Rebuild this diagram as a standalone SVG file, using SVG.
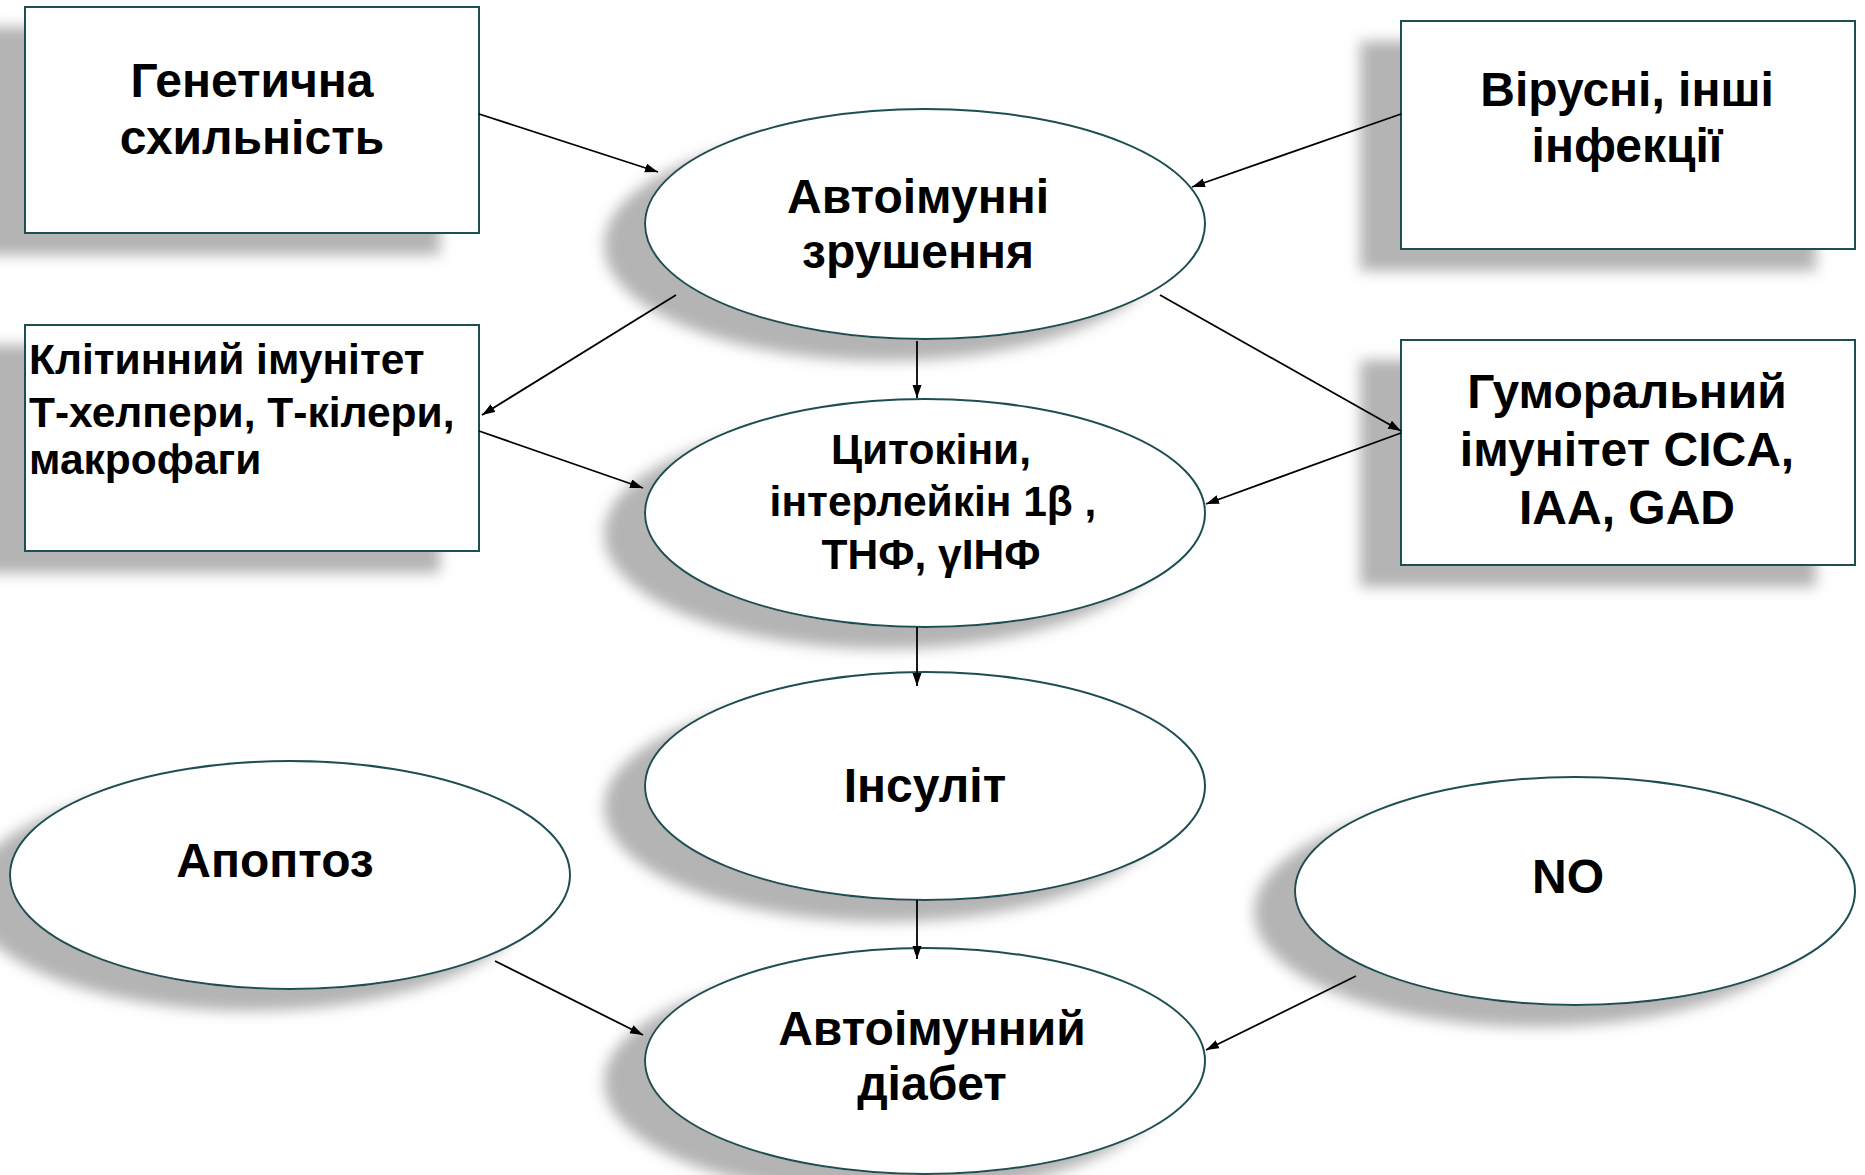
<svg xmlns="http://www.w3.org/2000/svg" width="1865" height="1175" viewBox="0 0 1865 1175">
<style>
.shape{fill:#ffffff;stroke:#1f4f52;stroke-width:2;filter:url(#sh)}
.t{font-family:"Liberation Sans",Arial,sans-serif;font-weight:bold;fill:#000;text-anchor:middle;font-size:48px}
.s{font-size:42.5px}
.l{text-anchor:start}
.c{fill:none;stroke:#000;stroke-width:1.8;marker-end:url(#ah)}
</style>
<defs>
<filter id="sh" x="-30%" y="-30%" width="160%" height="160%">
<feDropShadow dx="-40" dy="21" stdDeviation="7" flood-color="#b4b4b4" flood-opacity="1"/>
</filter>
<marker id="ah" markerUnits="userSpaceOnUse" markerWidth="14" markerHeight="10" refX="13" refY="4.5" orient="auto">
<path d="M0,0 L13,4.5 L0,9 z" fill="#000"/>
</marker>
</defs>
<rect width="1865" height="1175" fill="#fff"/>

<g id="genetic">
<rect class="shape" x="25" y="7" width="454" height="226"/>
<text class="t" x="252" y="97">Генетична</text>
<text class="t" x="252" y="154">схильність</text>
</g>

<g id="viral">
<rect class="shape" x="1401" y="21" width="454" height="228"/>
<text class="t" x="1627" y="106">Вірусні, інші</text>
<text class="t" x="1627" y="162">інфекції</text>
</g>

<g id="cellular">
<rect class="shape" x="25" y="325" width="454" height="226"/>
<text class="t s l" x="29" y="374">Клітинний імунітет</text>
<text class="t s l" x="29" y="427">Т-хелпери, Т-кілери,</text>
<text class="t s l" x="29" y="474">макрофаги</text>
</g>

<g id="humoral">
<rect class="shape" x="1401" y="340" width="454" height="225"/>
<text class="t" x="1627" y="408">Гуморальний</text>
<text class="t" x="1627" y="466">імунітет CICA,</text>
<text class="t" x="1627" y="524">IAA, GAD</text>
</g>

<g id="autoimmune-changes">
<ellipse class="shape" cx="925" cy="224" rx="280" ry="115"/>
<text class="t" x="918" y="213">Автоімунні</text>
<text class="t" x="918" y="268">зрушення</text>
</g>

<g id="cytokines">
<ellipse class="shape" cx="925" cy="513" rx="280" ry="114"/>
<text class="t s" x="931" y="464">Цитокіни,</text>
<text class="t s" x="933" y="516">інтерлейкін 1β ,</text>
<text class="t s" x="931" y="569">ТНФ, γІНФ</text>
</g>

<g id="insulitis">
<ellipse class="shape" cx="925" cy="786" rx="280" ry="114"/>
<text class="t" x="925" y="802">Інсуліт</text>
</g>

<g id="apoptosis">
<ellipse class="shape" cx="290" cy="875" rx="280" ry="114"/>
<text class="t" x="275" y="877">Апоптоз</text>
</g>

<g id="no">
<ellipse class="shape" cx="1575" cy="891" rx="280" ry="114"/>
<text class="t" x="1568" y="893">NO</text>
</g>

<g id="autoimmune-diabetes">
<ellipse class="shape" cx="925" cy="1061" rx="280" ry="113"/>
<text class="t" x="932" y="1045">Автоімунний</text>
<text class="t" x="932" y="1100">діабет</text>
</g>

<g id="connectors">
<line class="c" x1="479" y1="114" x2="658" y2="172"/>
<line class="c" x1="1401" y1="114" x2="1192" y2="187"/>
<line class="c" x1="676" y1="295" x2="482" y2="415"/>
<line class="c" x1="917" y1="341" x2="917" y2="398"/>
<line class="c" x1="1160" y1="295" x2="1401" y2="431"/>
<line class="c" x1="479" y1="431" x2="643" y2="488"/>
<line class="c" x1="1401" y1="433" x2="1206" y2="504"/>
<line class="c" x1="917" y1="627" x2="917" y2="686"/>
<line class="c" x1="917" y1="900" x2="917" y2="959"/>
<line class="c" x1="495" y1="961" x2="643" y2="1035"/>
<line class="c" x1="1356" y1="976" x2="1206" y2="1050"/>
</g>
</svg>
